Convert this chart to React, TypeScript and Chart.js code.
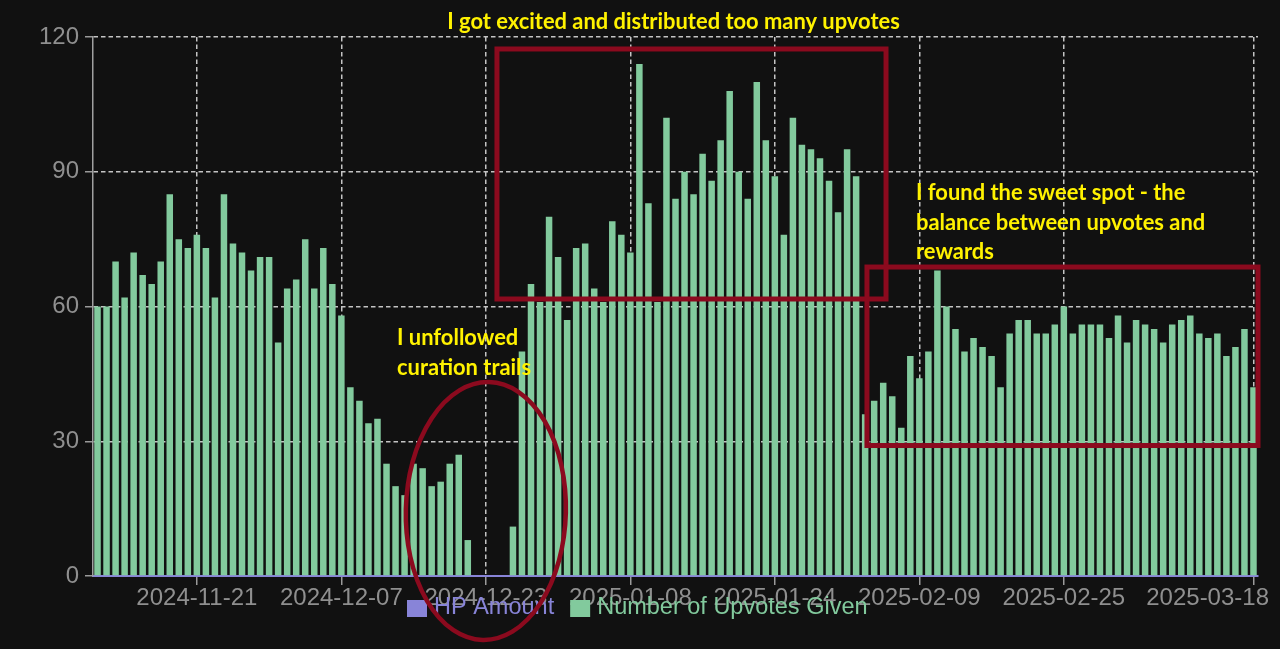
import React, { useEffect, useRef } from "react";
import { Chart, registerables } from "chart.js";

Chart.register(...registerables);

// ---------- data ----------
const firstDay = Date.UTC(2024, 10, 10); // 2024-11-10
const upvotes: number[] = [
  60, 60, 70, 62, 72, 67, 65, 70, 85, 75,
  73, 76, 73, 62, 85, 74, 72, 68, 71, 71,
  52, 64, 66, 75, 64, 73, 65, 58, 42, 39,
  34, 35, 25, 20, 18, 25, 24, 20, 21, 25,
  27, 8, 0, 0, 0, 0, 11, 50, 65, 61,
  80, 71, 57, 73, 74, 64, 61, 79, 76, 72,
  114, 83, 61, 102, 84, 90, 85, 94, 88, 97,
  108, 90, 84, 110, 97, 89, 76, 102, 96, 95,
  93, 88, 81, 95, 89, 36, 39, 43, 40, 33,
  49, 44, 50, 68, 60, 55, 50, 53, 51, 49,
  42, 54, 57, 57, 54, 54, 56, 60, 54, 56,
  56, 56, 53, 58, 52, 57, 56, 55, 52, 56,
  57, 58, 54, 53, 54, 49, 51, 55, 42,
];
const dates: string[] = upvotes.map((_, i) =>
  new Date(firstDay + i * 86400000).toISOString().slice(0, 10)
);
const xTickLabels = [
  "2024-11-21",
  "2024-12-07",
  "2024-12-23",
  "2025-01-08",
  "2025-01-24",
  "2025-02-09",
  "2025-02-25",
  "2025-03-18",
];
const yTicks = [0, 30, 60, 90, 120];
const legendItems = [
  { label: "HP Amount", color: "#8884d8" },
  { label: "Number of Upvotes Given", color: "#82ca9d" },
];

// ---------- annotations (in data space: category index / value) ----------
const boxes = [
  { x0: 44.23, x1: 87.31, y0: 61.67, y1: 117.33 },
  { x0: 85.2, x1: 128.5, y0: 29.05, y1: 68.79 },
];
const ellipses = [{ cx: 43.0, cy: 14.47, rx: 8.86, ry: 28.72, rot: 0.025 }];
const notes = [
  { lines: ["I got excited and distributed too many upvotes"], x: 63.78, y: 121.78, align: "center" },
  { lines: ["I unfollowed", "curation trails"], x: 33.16, y: 51.43, align: "left" },
  {
    lines: ["I found the sweet spot - the", "balance between upvotes and", "rewards"],
    x: 90.63,
    y: 83.71,
    align: "left",
  },
];

const RED = "#8b0a1e";
const YELLOW = "#fff200";
const TICK_COLOR = "#8f8f8f";
const GRID_COLOR = "#c4c4c4";
const TICK_FONT = "24px 'Liberation Sans', Arial, sans-serif";

const overlayPlugin = {
  id: "overlay",
  afterDraw(chart: any) {
    const ctx: CanvasRenderingContext2D = chart.ctx;
    const xs = chart.scales.x;
    const ys = chart.scales.y;
    const px = (v: number) => xs.getPixelForValue(v);
    const py = (v: number) => ys.getPixelForValue(v);

    ctx.save();
    // x tick labels
    ctx.font = TICK_FONT;
    ctx.fillStyle = TICK_COLOR;
    ctx.textAlign = "center";
    ctx.textBaseline = "alphabetic";
    xTickLabels.forEach((lab) => {
      const idx = dates.indexOf(lab);
      if (idx < 0) return;
      const w = ctx.measureText(lab).width;
      const x = Math.min(px(idx), chart.width - 11 - w / 2);
      ctx.fillText(lab, x, 605);
    });

    // legend
    ctx.font = "23.5px 'Liberation Sans', Arial, sans-serif";
    ctx.textAlign = "left";
    ctx.textBaseline = "middle";
    let lx = 407;
    legendItems.forEach((it, k) => {
      ctx.fillStyle = it.color;
      ctx.fillRect(lx, 600, 20, 17);
      lx += 20 + 7;
      ctx.fillText(it.label, lx, 608);
      lx += ctx.measureText(it.label).width + (k === 0 ? 16 : 0);
    });

    // boxes
    ctx.strokeStyle = RED;
    ctx.lineWidth = 5;
    boxes.forEach((b) => {
      const x0 = px(b.x0), x1 = px(b.x1), y0 = py(b.y1), y1 = py(b.y0);
      ctx.strokeRect(x0, y0, x1 - x0, y1 - y0);
    });

    // ellipses
    ctx.lineWidth = 4.5;
    ellipses.forEach((e) => {
      const cx = px(e.cx), cy = py(e.cy);
      const rx = px(e.cx + e.rx) - cx;
      const ry = py(e.cy - e.ry) - cy;
      ctx.beginPath();
      ctx.ellipse(cx, cy, rx, ry, e.rot, 0, Math.PI * 2);
      ctx.stroke();
    });

    // notes
    ctx.font = "bold 100px Lato, 'Open Sans', sans-serif";
    const ref = ctx.measureText(notes[0].lines[0]).width;
    const size = (100 * 453) / ref;
    ctx.font = `bold ${size}px Lato, 'Open Sans', sans-serif`;
    ctx.fillStyle = YELLOW;
    ctx.textBaseline = "alphabetic";
    notes.forEach((n) => {
      ctx.textAlign = n.align as CanvasTextAlign;
      const x = px(n.x);
      const y = py(n.y);
      n.lines.forEach((line, i) => ctx.fillText(line, x, y + i * 29.6));
    });
    ctx.restore();
  },
};

export default function App() {
  const ref = useRef<HTMLCanvasElement>(null);

  useEffect(() => {
    document.body.style.margin = "0";
    document.body.style.background = "#111111";
    const canvas = ref.current;
    if (!canvas) return;
    const chart = new Chart(canvas, {
      type: "bar",
      data: {
        labels: dates,
        datasets: [
          {
            label: "Number of Upvotes Given",
            data: upvotes,
            backgroundColor: "#82ca9d",
            borderWidth: 0,
            barPercentage: 0.72,
            categoryPercentage: 1,
          },
        ],
      },
      options: {
        responsive: false,
        animation: false,
        devicePixelRatio: 1,
        layout: { padding: { top: 37, right: 22, left: 0, bottom: 0 } },
        plugins: { legend: { display: false }, tooltip: { enabled: false }, title: { display: false } },
        scales: {
          x: {
            type: "category",
            offset: true,
            grid: {
              offset: false,
              color: GRID_COLOR,
              lineWidth: 1.5,
              tickColor: "#9a9a9a",
              tickLength: 9,
              tickWidth: 1.5,
            },
            border: { display: true, color: "#8884d8", width: 2, dash: [4.5, 3] },
            ticks: { display: false, autoSkip: false, maxRotation: 0 },
            afterBuildTicks: (s: any) => {
              s.ticks = s.ticks.filter((t: any) => xTickLabels.includes(dates[t.value]));
            },
            afterFit: (s: any) => {
              s.height = 73;
              s.paddingLeft = 0;
              s.paddingRight = 0;
            },
          },
          y: {
            min: 0,
            max: 120,
            ticks: {
              stepSize: 30,
              color: TICK_COLOR,
              font: { family: "'Liberation Sans', Arial, sans-serif", size: 24 },
              padding: 6,
            },
            afterBuildTicks: (s: any) => {
              s.ticks = yTicks.map((v) => ({ value: v }));
            },
            grid: {
              color: GRID_COLOR,
              lineWidth: 1.5,
              tickColor: "#9a9a9a",
              tickLength: 8,
              tickWidth: 1.5,
            },
            border: { display: true, color: "#a0a0a0", width: 1.5, dash: [4.5, 3] },
            afterFit: (s: any) => {
              s.width = 93;
            },
          },
        },
      } as any,
      plugins: [overlayPlugin],
    });
    return () => chart.destroy();
  }, []);

  return (
    <div style={{ width: 1280, height: 649, background: "#111111", position: "relative" }}>
      <canvas ref={ref} width={1280} height={649} style={{ width: 1280, height: 649, display: "block" }} />
    </div>
  );
}
